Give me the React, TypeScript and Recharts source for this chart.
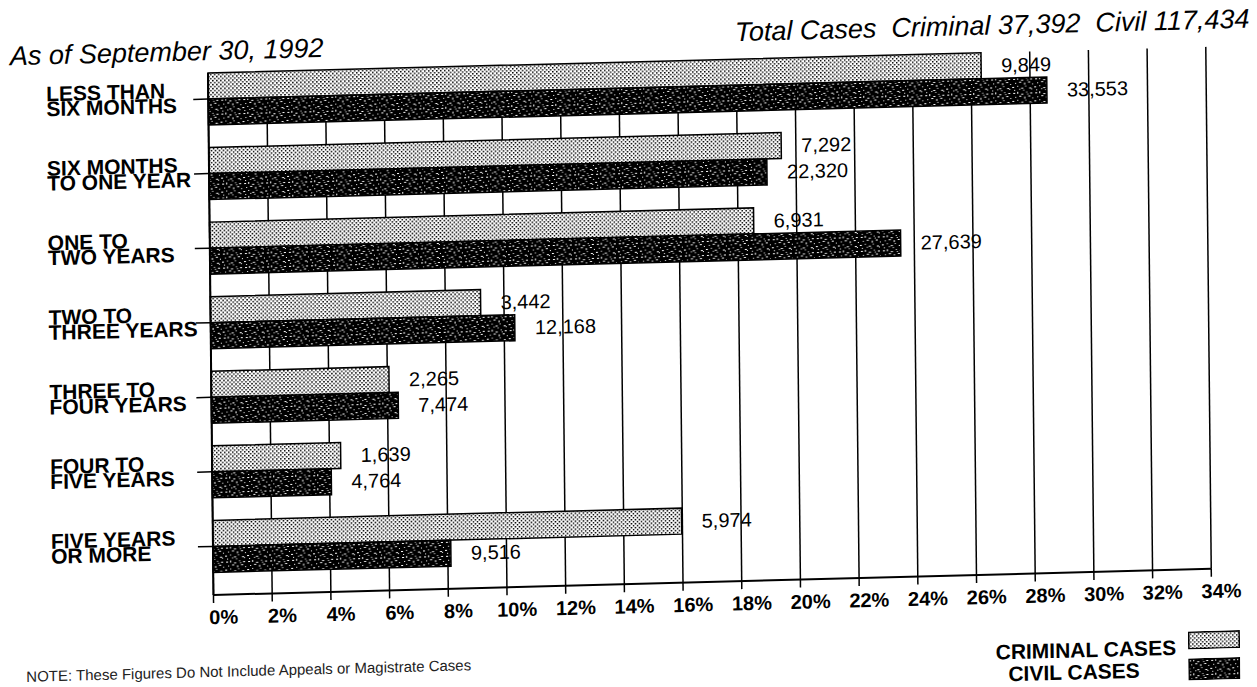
import React from "react"
import { BarChart, Bar, XAxis, YAxis, CartesianGrid, LabelList } from "recharts"

// pending cases by age, as of September 30, 1992
const categories = [
  "LESS THAN\nSIX MONTHS",
  "SIX MONTHS\nTO ONE YEAR",
  "ONE TO\nTWO YEARS",
  "TWO TO\nTHREE YEARS",
  "THREE TO\nFOUR YEARS",
  "FOUR TO\nFIVE YEARS",
  "FIVE YEARS\nOR MORE",
]
const criminalCases = [9849, 7292, 6931, 3442, 2265, 1639, 5974]
const civilCases = [33553, 22320, 27639, 12168, 7474, 4764, 9516]
const criminalTotal = 37392
const civilTotal = 117434
const percentTicks = [0, 2, 4, 6, 8, 10, 12, 14, 16, 18, 20, 22, 24, 26, 28, 30, 32, 34]

const data = categories.map((cat, i) => ({
  cat,
  criminal: (criminalCases[i] / criminalTotal) * 100,
  civil: (civilCases[i] / civilTotal) * 100,
  criminalCount: criminalCases[i],
  civilCount: civilCases[i],
  spacer: 0,
}))

const W = 1257
const H = 687
const PLOT_LEFT = 208
const PLOT_TOP = 73
const PLOT_RIGHT = 1206
const PLOT_BOTTOM = 595
const X_AXIS_H = 40
const BAR_H = 26
const BAND = (PLOT_BOTTOM - PLOT_TOP) / categories.length
const TICK_SHIFT = BAR_H - BAND / 2
const LABEL_X = 46
const FONT = "'Liberation Sans', Arial, Helvetica, sans-serif"

const specks = [
  [1, 2, 2, 1], [5, 1, 1, 2], [9, 3, 2, 1], [14, 1, 1, 1], [18, 2, 2, 1],
  [3, 6, 1, 1], [7, 5, 2, 1], [12, 6, 1, 2], [16, 5, 2, 1], [20, 7, 1, 1],
  [0, 10, 2, 1], [5, 9, 1, 1], [9, 11, 2, 1], [13, 9, 1, 1], [17, 11, 2, 1],
  [2, 13, 1, 1], [11, 13, 1, 1], [19, 12, 1, 1], [7, 12, 1, 1], [15, 3, 1, 1],
]

const Patterns = ({ prefix }: { prefix: string }) => (
  <defs>
    <pattern id={`${prefix}crim`} width="4" height="4" patternUnits="userSpaceOnUse">
      <rect width="4" height="4" fill="#fff" />
      <rect x="0" y="0" width="1.5" height="1.5" fill="#000" />
      <rect x="2" y="2" width="1.5" height="1.5" fill="#000" />
    </pattern>
    <pattern id={`${prefix}civ`} width="22" height="14" patternUnits="userSpaceOnUse">
      <rect width="22" height="14" fill="#000" />
      {specks.map(([x, y, w, h], i) => (
        <rect key={i} x={x} y={y} width={w} height={h} fill="#fff" />
      ))}
    </pattern>
  </defs>
)

const CatTick = (props: any) => {
  const { x, y, payload } = props
  const ty = y + TICK_SHIFT
  const lines = String(payload.value).split("\n")
  const style = { fontSize: 21, fontWeight: 700, fontFamily: FONT }
  return (
    <g>
      <line x1={x - 15} x2={x} y1={ty} y2={ty} stroke="#000" strokeWidth={1.5} />
      <text x={LABEL_X} y={ty - 2} fill="#000" style={style}>
        {lines[0]}
      </text>
      <text x={LABEL_X} y={ty + 13} fill="#000" style={style}>
        {lines[1]}
      </text>
    </g>
  )
}

const fmt = (v: any) => Number(v).toLocaleString("en-US")

export default function App() {
  return (
    <div style={{ position: "absolute", left: 0, top: 0, width: W, height: H, overflow: "hidden", background: "#fff" }}>
      <style>{`html,body{margin:0;overflow:hidden;background:#fff}`}</style>
      <div
        style={{
          position: "absolute",
          left: 0,
          top: 0,
          width: W,
          height: H,
          transform: "rotate(-0.6deg) skewY(-0.9deg)",
          transformOrigin: `${PLOT_LEFT}px ${PLOT_TOP}px`,
          fontFamily: FONT,
          color: "#000",
        }}
      >
        <div style={{ position: "absolute", left: 10, top: 65 - 27, fontSize: 27, fontStyle: "italic", lineHeight: "27px", whiteSpace: "pre" }}>
          As of September 30, 1992
        </div>
        <div style={{ position: "absolute", right: W - 1250, top: 60 - 27, fontSize: 27, fontStyle: "italic", lineHeight: "27px", whiteSpace: "pre" }}>
          {`Total Cases  Criminal ${fmt(criminalTotal)}  Civil ${fmt(civilTotal)}`}
        </div>

        <BarChart
          width={W}
          height={H}
          data={data}
          layout="vertical"
          barGap={0}
          margin={{ top: PLOT_TOP, right: W - PLOT_RIGHT, bottom: H - PLOT_BOTTOM - X_AXIS_H, left: 0 }}
        >
          <Patterns prefix="c-" />
          <CartesianGrid horizontal={false} stroke="#000" strokeWidth={1.5} />
          <XAxis
            type="number"
            domain={[0, 34]}
            ticks={percentTicks}
            interval={0}
            height={X_AXIS_H}
            tickFormatter={(v) => `${v}%`}
            tick={{ fontSize: 20, fontWeight: 700, fill: "#000", fontFamily: FONT, dx: 10 }}
            tickSize={8}
            tickMargin={7}
            axisLine={{ stroke: "#000", strokeWidth: 2 }}
            tickLine={{ stroke: "#000", strokeWidth: 1.5 }}
          />
          <XAxis
            xAxisId="top"
            orientation="top"
            type="number"
            domain={[0, 34]}
            height={0}
            tick={false}
            tickLine={false}
            axisLine={{ stroke: "#000", strokeWidth: 2 }}
          />
          <YAxis
            type="category"
            dataKey="cat"
            width={PLOT_LEFT}
            interval={0}
            tickSize={0}
            tickMargin={0}
            tickLine={false}
            axisLine={{ stroke: "#000", strokeWidth: 2 }}
            tick={(p: any) => <CatTick {...p} />}
          />
          <Bar dataKey="criminal" barSize={BAR_H} fill="url(#c-crim)" stroke="#000" strokeWidth={1.5} isAnimationActive={false}>
            <LabelList dataKey="criminalCount" position="right" offset={20} formatter={fmt} style={{ fontSize: 20, fill: "#000", fontFamily: FONT }} />
          </Bar>
          <Bar dataKey="civil" barSize={BAR_H} fill="url(#c-civ)" stroke="#000" strokeWidth={1.5} isAnimationActive={false}>
            <LabelList dataKey="civilCount" position="right" offset={20} formatter={fmt} style={{ fontSize: 20, fill: "#000", fontFamily: FONT }} />
          </Bar>
          <Bar dataKey="spacer" barSize={BAND - 2 * BAR_H - 0.01} fill="none" stroke="none" isAnimationActive={false} />
        </BarChart>

        <div style={{ position: "absolute", right: W - 1170, top: 661, fontSize: 21, fontWeight: 700, lineHeight: "24px", whiteSpace: "pre" }}>
          CRIMINAL CASES
        </div>
        <div style={{ position: "absolute", left: 1002, top: 683, fontSize: 21, fontWeight: 700, lineHeight: "24px", whiteSpace: "pre" }}>
          CIVIL CASES
        </div>
        <svg style={{ position: "absolute", left: 1182, top: 657 }} width={52} height={18}>
          <Patterns prefix="l1-" />
          <rect x={0.75} y={0.75} width={50.5} height={16.5} fill="url(#l1-crim)" stroke="#000" strokeWidth={1.5} />
        </svg>
        <svg style={{ position: "absolute", left: 1182, top: 684 }} width={52} height={22}>
          <Patterns prefix="l2-" />
          <rect x={0.75} y={0.75} width={50.5} height={20.5} fill="url(#l2-civ)" stroke="#000" strokeWidth={1.5} />
        </svg>

        <div style={{ position: "absolute", left: 20, top: 663, fontSize: 15, lineHeight: "17px", color: "#222", whiteSpace: "pre" }}>
          NOTE: These Figures Do Not Include Appeals or Magistrate Cases
        </div>
      </div>
    </div>
  )
}
